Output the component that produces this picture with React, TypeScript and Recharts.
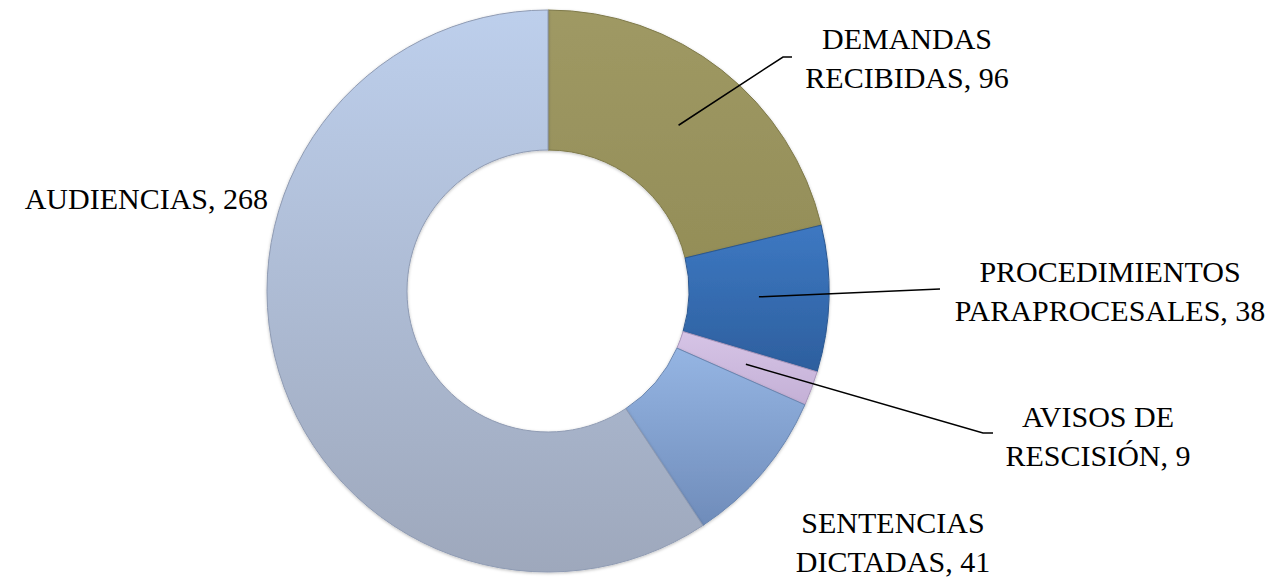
import React from 'react';
import { PieChart, Pie, Cell } from 'recharts';

const categories = [
  'DEMANDAS RECIBIDAS',
  'PROCEDIMIENTOS PARAPROCESALES',
  'AVISOS DE RESCISIÓN',
  'SENTENCIAS DICTADAS',
  'AUDIENCIAS',
];
const values = [96, 38, 9, 41, 268];
// how each label is broken into lines, as in the original
const labelLines = [
  ['DEMANDAS', 'RECIBIDAS, 96'],
  ['PROCEDIMIENTOS', 'PARAPROCESALES, 38'],
  ['AVISOS DE', 'RESCISIÓN, 9'],
  ['SENTENCIAS', 'DICTADAS, 41'],
  ['AUDIENCIAS, 268'],
];

const data = categories.map((name, i) => ({ name, value: values[i] }));

// gradient stops per slice (top, bottom) and edge colour
const fills = [
  { top: '#9f9964', bottom: '#948e58', edge: '#7f7a4a' },
  { top: '#3d78c2', bottom: '#2d5f9e', edge: '#2a5790' },
  { top: '#d6c4e6', bottom: '#c4b0d6', edge: '#a996bb' },
  { top: '#95b5e3', bottom: '#6f8cba', edge: '#6a86b0' },
  { top: '#bdcfec', bottom: '#9ea8bc', edge: '#8f9bb3' },
];

// label placement (outside the library's scales, Excel-style manual labels)
const labelLayout = [
  { x: 907, y: 49, anchor: 'middle', leader: [[783, 57], [792, 57]] },
  { x: 1110, y: 282, anchor: 'middle', leader: [[940, 289]] },
  { x: 1098, y: 427, anchor: 'middle', leader: [[983, 433], [993, 433]] },
  { x: 893, y: 533, anchor: 'middle', leader: null },
  { x: 268, y: 209, anchor: 'end', leader: null },
];

const RAD = Math.PI / 180;
const LINE_H = 38.5;

const renderLabel = (props: any) => {
  const { cx, cy, midAngle, innerRadius, outerRadius, index } = props;
  const lay = labelLayout[index];
  const lines = labelLines[index];
  const r = (innerRadius + outerRadius) / 2;
  const sx = cx + r * Math.cos(-midAngle * RAD);
  const sy = cy + r * Math.sin(-midAngle * RAD);
  let path = '';
  if (lay.leader) {
    path = `M${sx},${sy}` + lay.leader.map((p) => ` L${p[0]},${p[1]}`).join('');
  }
  return (
    <g key={`lbl-${index}`}>
      {path && <path d={path} stroke="#000" strokeWidth={1.5} fill="none" />}
      <text
        x={lay.x}
        y={lay.y}
        textAnchor={lay.anchor as any}
        fontFamily="'Liberation Serif', 'Times New Roman', serif"
        fontSize={30}
        fill="#000"
      >
        {lines.map((ln, i) => (
          <tspan key={i} x={lay.x} dy={i === 0 ? 0 : LINE_H}>
            {ln}
          </tspan>
        ))}
      </text>
    </g>
  );
};

export default function App() {
  return (
    <div style={{ position: 'absolute', left: 0, top: 0, width: 1280, height: 579, background: '#fff' }}>
      <PieChart width={1280} height={579} margin={{ top: 0, right: 0, bottom: 0, left: 0 }}>
        <defs>
          {fills.map((f, i) => (
            <linearGradient key={i} id={`slice-${i}`} x1="0" y1="0" x2="0" y2="1">
              <stop offset="0%" stopColor={f.top} />
              <stop offset="100%" stopColor={f.bottom} />
            </linearGradient>
          ))}
          <filter id="soft" x="-10%" y="-10%" width="120%" height="120%">
            <feDropShadow dx="0" dy="1" stdDeviation="1.5" floodColor="#000" floodOpacity="0.25" />
          </filter>
        </defs>
        <Pie
          data={data}
          dataKey="value"
          nameKey="name"
          cx={548}
          cy={291}
          innerRadius={141}
          outerRadius={281}
          startAngle={90}
          endAngle={-270}
          paddingAngle={0}
          isAnimationActive={false}
          label={renderLabel}
          labelLine={false}
          style={{ filter: 'url(#soft)' }}
        >
          {data.map((entry, index) => (
            <Cell
              key={`cell-${index}`}
              fill={`url(#slice-${index})`}
              stroke={fills[index].edge}
              strokeWidth={1}
            />
          ))}
        </Pie>
      </PieChart>
    </div>
  );
}
